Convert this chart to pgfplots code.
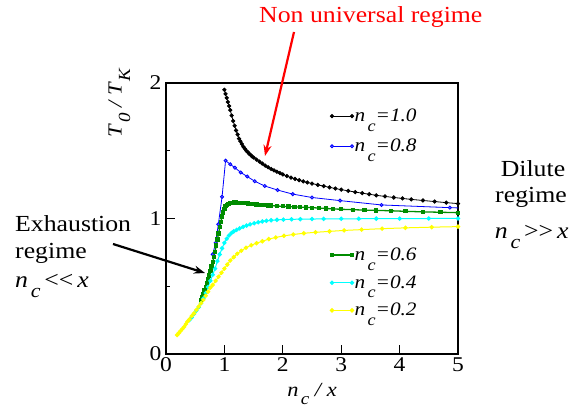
\documentclass[border=0pt]{standalone}
\usepackage{pgfplots}
\pgfplotsset{compat=1.18}
\usepackage{fontspec}
\setmainfont{Liberation Serif}[FakeStretch=1.12]
\usetikzlibrary{arrows.meta}
\definecolor{mygreen}{RGB}{0,140,0}
\definecolor{mycyan}{RGB}{0,255,255}
\definecolor{myyellow}{RGB}{255,255,0}
\definecolor{myblue}{RGB}{0,0,255}
\definecolor{myred}{RGB}{255,0,0}
\newcommand\fs[1]{\fontsize{#1bp}{#1bp}\selectfont}
\newdimen\subsz
\makeatletter
\newcommand\lsub[2][0.42]{\begingroup\subsz=\f@size pt\subsz=0.85\subsz\kern0.12em\raisebox{-#1em}{\fontsize{\the\subsz}{\the\subsz}\selectfont #2}\endgroup}
\makeatother
\pgfplotsset{
  blk/.style={black, line width=0.8bp, mark=*, mark size=1.7bp, mark options={fill=black}},
  blu/.style={myblue, line width=0.8bp, mark=*, mark size=1.6bp, mark options={fill=myblue!60!white}},
  grn/.style={mygreen, line width=1.3bp, mark=square*, mark size=1.5bp, mark options={fill=mygreen}},
  cyn/.style={mycyan, line width=1bp, mark=*, mark size=1.7bp, mark options={fill=mycyan}},
  yel/.style={myyellow, line width=1bp, mark=*, mark size=1.7bp, mark options={fill=myyellow}},
  common/.style={
    at={(166bp,56bp)}, anchor=south west,
    width=292bp, height=271bp, scale only axis,
    xmin=0, xmax=5, ymin=0, ymax=2,
    legend image code/.code={\draw[##1] plot coordinates {(0bp,0bp) (20bp,0bp)};},
    legend cell align=left,
  },
}
\begin{document}
\begin{tikzpicture}
\useasboundingbox (0bp,0bp) rectangle (574bp,410bp);
\begin{axis}[common,
  xtick={0,1,2,3,4,5}, ytick={0,1,2}, minor ytick={0.5,1.5},
  tick align=inside, tick pos=left,
  major tick length=9bp, minor tick length=4bp,
  axis line style={line width=1.3bp},
  every tick/.style={line width=1.1bp, black},
  every minor tick/.style={line width=1.1bp, black},
  ticklabel style={font=\fs{21}},
  yticklabel style={xshift=-1bp},
  /pgf/number format/assume math mode=true,
  legend style={at={(rel axis cs:0.562,0.822)}, anchor=west, draw=none, fill=none,
    font=\fs{19}, row sep=14bp, inner sep=0pt, nodes={inner sep=1bp},
    /tikz/every even column/.append style={column sep=4bp}},
]
\addplot[blk] coordinates {
(1.00,1.95) (1.02,1.92) (1.04,1.89) (1.06,1.86) (1.08,1.83) (1.10,1.80)
(1.125,1.76) (1.15,1.72) (1.175,1.685) (1.20,1.65) (1.225,1.62) (1.25,1.59)
(1.275,1.57) (1.30,1.55) (1.325,1.53) (1.35,1.515) (1.375,1.50) (1.40,1.49)
(1.425,1.478) (1.45,1.468) (1.475,1.458) (1.50,1.45) (1.55,1.435) (1.60,1.42)
(1.65,1.405) (1.70,1.39) (1.75,1.378) (1.80,1.366) (1.85,1.355) (1.90,1.345)
(1.95,1.335) (2.00,1.325) (2.07,1.313) (2.14,1.302) (2.21,1.292) (2.28,1.283)
(2.35,1.274) (2.42,1.266) (2.50,1.258) (2.60,1.248) (2.70,1.239) (2.80,1.23)
(2.90,1.221) (3.00,1.213) (3.12,1.204) (3.24,1.195) (3.36,1.187) (3.48,1.179)
(3.60,1.171) (3.75,1.163) (3.90,1.155) (4.05,1.148) (4.20,1.141) (4.40,1.133)
(4.60,1.125) (4.80,1.117) (5.00,1.11)
};
\addlegendentry{\textit{n\lsub[0.5]{c}=1.0}}
\addplot[blu] coordinates {
(0.80,0.735) (0.85,0.82) (0.896,0.957) (0.96,1.16) (1.02,1.427) (1.10,1.40)
(1.18,1.375) (1.28,1.34) (1.39,1.31) (1.52,1.275) (1.69,1.24) (1.91,1.21)
(2.17,1.18) (2.50,1.155) (2.98,1.132) (3.69,1.10) (4.86,1.08) (6.30,1.06)
};
\addlegendentry{\textit{n\lsub[0.5]{c}=0.8}}
\addplot[grn, forget plot] coordinates {
(0.60,0.40) (0.62,0.42) (0.64,0.445) (0.66,0.47) (0.68,0.495) (0.70,0.52)
(0.72,0.55) (0.74,0.58) (0.76,0.61) (0.78,0.645) (0.80,0.68) (0.82,0.715)
(0.84,0.755) (0.86,0.80) (0.88,0.845) (0.90,0.89) (0.92,0.935) (0.94,0.975)
(0.96,1.015) (0.98,1.045) (1.00,1.07) (1.02,1.09) (1.04,1.10) (1.07,1.108)
(1.10,1.113) (1.13,1.116) (1.16,1.117) (1.20,1.117) (1.25,1.116) (1.30,1.114)
(1.35,1.112) (1.40,1.11) (1.45,1.108) (1.50,1.106) (1.55,1.104) (1.60,1.102)
(1.65,1.10) (1.70,1.098) (1.75,1.096) (1.80,1.095) (1.90,1.092) (2.00,1.09)
(2.10,1.088) (2.20,1.086) (2.30,1.084) (2.40,1.082) (2.50,1.08) (2.62,1.077)
(2.74,1.074) (2.86,1.071) (3.00,1.068) (3.20,1.065) (3.40,1.062) (3.60,1.06)
(3.85,1.057) (4.10,1.053) (4.40,1.049) (4.70,1.046) (5.00,1.043)
};
\addplot[cyn, forget plot] coordinates {
(0.40,0.25) (0.44,0.27) (0.48,0.295) (0.52,0.32) (0.56,0.345) (0.60,0.375)
(0.64,0.41) (0.68,0.45) (0.72,0.495) (0.76,0.54) (0.80,0.585) (0.84,0.63)
(0.88,0.685) (0.92,0.735) (0.96,0.78) (1.00,0.82) (1.04,0.85) (1.08,0.875)
(1.12,0.893) (1.16,0.905) (1.21,0.916) (1.26,0.927) (1.32,0.938) (1.38,0.948)
(1.44,0.957) (1.51,0.965) (1.58,0.972) (1.65,0.978) (1.72,0.983) (1.80,0.987)
(1.90,0.99) (2.01,0.992) (2.15,0.994) (2.30,0.995) (2.50,0.996) (2.70,0.997)
(3.00,0.998) (3.30,0.998) (3.60,0.999) (4.00,0.999) (4.50,1.0) (5.00,1.0)
};
\addplot[yel, forget plot] coordinates {
(0.19,0.14) (0.22,0.155) (0.25,0.17) (0.28,0.185) (0.31,0.20) (0.34,0.22)
(0.37,0.24) (0.40,0.255) (0.44,0.28) (0.48,0.30) (0.52,0.325) (0.56,0.35)
(0.60,0.375) (0.64,0.40) (0.68,0.43) (0.72,0.46) (0.76,0.49) (0.80,0.51)
(0.85,0.54) (0.90,0.57) (0.95,0.60) (1.00,0.63) (1.05,0.66) (1.10,0.69)
(1.16,0.715) (1.22,0.74) (1.29,0.762) (1.37,0.784) (1.46,0.803) (1.55,0.818)
(1.65,0.832) (1.76,0.848) (1.88,0.86) (2.02,0.872) (2.18,0.882) (2.36,0.891)
(2.56,0.898) (2.80,0.905) (3.05,0.912) (3.35,0.918) (3.70,0.925) (4.10,0.931)
(4.55,0.936) (5.00,0.94)
};
\end{axis}
\begin{axis}[common, hide axis,
  legend style={at={(rel axis cs:0.562,0.263)}, anchor=west, draw=none, fill=none,
    font=\fs{19}, row sep=11.5bp, inner sep=0pt, nodes={inner sep=1bp},
    /tikz/every even column/.append style={column sep=4bp}},
]
\addlegendimage{grn}
\addlegendentry{\textit{n\lsub[0.5]{c}=0.6}}
\addlegendimage{cyn}
\addlegendentry{\textit{n\lsub[0.5]{c}=0.4}}
\addlegendimage{yel}
\addlegendentry{\textit{n\lsub[0.5]{c}=0.2}}
\end{axis}
% axis labels
\node[anchor=base, font=\fs{20}] at (312bp,14bp) {\textit{n\lsub{c}\ /\ x}};
\node[anchor=base, rotate=90, font=\fs{20}] at (121.7bp,307bp) {\textit{T\lsub{0}\ /\ T\lsub{K}}};
% annotations
\node[anchor=base west, text=myred, font=\fs{23}, inner sep=0pt] at (259bp,387.3bp) {Non universal regime};
\draw[myred, line width=2.2bp, -{Stealth[length=11bp,width=8bp]}] (294bp,378bp) -- (265bp,254bp);
\node[anchor=base west, font=\fs{23}, inner sep=0pt] at (15bp,178.3bp) {Exhaustion};
\node[anchor=base west, font=\fs{23}, inner sep=0pt] at (15bp,151bp) {regime};
\node[anchor=base west, font=\fs{23}, inner sep=0pt] at (15bp,122bp) {\textit{n}\lsub{\textit{c}}\,{<}{<}\,\textit{x}};
\draw[black, line width=2.2bp, -{Stealth[length=11bp,width=8bp]}] (113bp,166bp) -- (205bp,137bp);
\node[anchor=base, font=\fs{23}, inner sep=0pt] at (533bp,233.3bp) {Dilute};
\node[anchor=base, font=\fs{23}, inner sep=0pt] at (531bp,207bp) {regime};
\node[anchor=base, font=\fs{23}, inner sep=0pt] at (531.7bp,171bp) {\textit{n}\lsub{\textit{c}}\,{>}{>}\,\textit{x}};
\end{tikzpicture}
\end{document}
